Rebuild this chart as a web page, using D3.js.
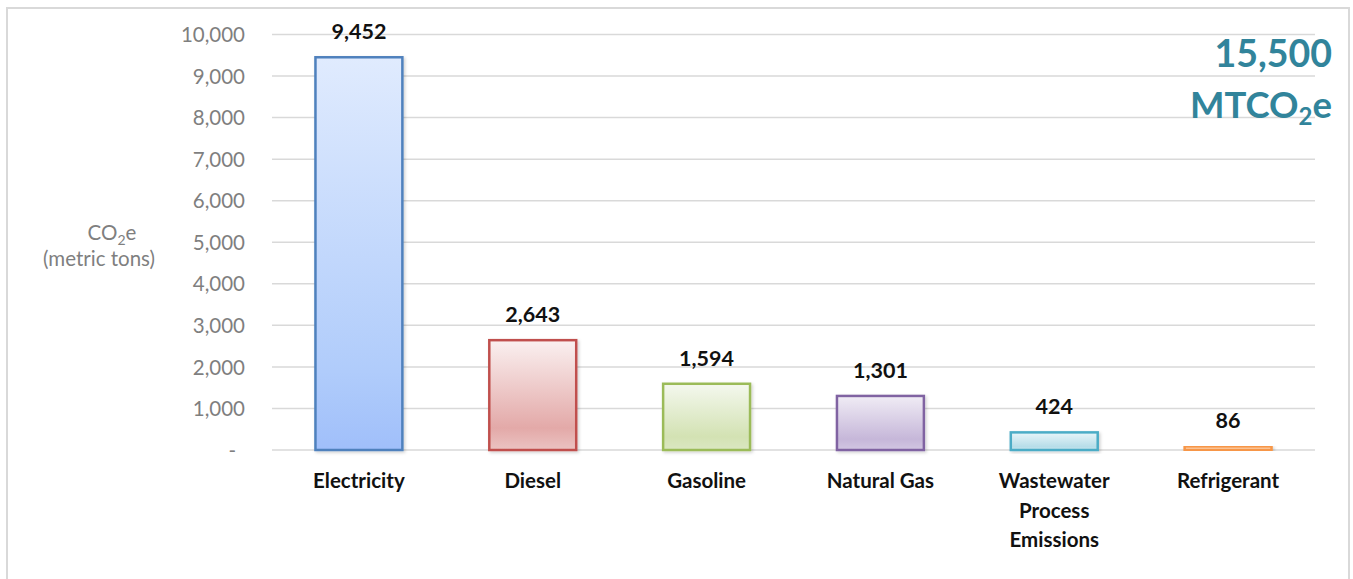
<!DOCTYPE html>
<html>
<head>
<meta charset="utf-8">
<script src="https://cdn.jsdelivr.net/npm/d3@7"></script>
<style>
  html, body { margin: 0; padding: 0; background: #fff; }
  svg { display: block; font-family: Lato, "Open Sans", sans-serif; }
</style>
</head>
<body>
<svg id="chart" width="1353" height="579"></svg>
<script>
// Emissions by source, metric tons CO2e
const categories = ["Electricity", "Diesel", "Gasoline", "Natural Gas", "Wastewater Process Emissions", "Refrigerant"];
const categoryLines = [["Electricity"], ["Diesel"], ["Gasoline"], ["Natural Gas"], ["Wastewater", "Process", "Emissions"], ["Refrigerant"]];
const values = [9452, 2643, 1594, 1301, 424, 86];
const yTicks = [0, 1000, 2000, 3000, 4000, 5000, 6000, 7000, 8000, 9000, 10000];
const totalLabel = "15,500";

// Per-bar outline and gradient stops (top, 80%, bottom)
const strokes = ["#4f81bd", "#c0504d", "#9bbb59", "#8064a2", "#4bacc6", "#f79646"];
const gradStops = [
  ["#e0ebfe", "#b0ccfb", "#a0bffa"],
  ["#faf0f0", "#e3a9a8", "#ebc3c2"],
  ["#f4f8ee", "#d3e2b3", "#dbe7c2"],
  ["#f0ecf5", "#c6b7d9", "#d2c7e2"],
  ["#e8f5f9", "#b7dee9", "#c6e4ed"],
  ["#fee6d2", "#fbcaa2", "#fcd6b6"]
];

const svg = d3.select("#chart");
const defs = svg.append("defs");

gradStops.forEach((stops, i) => {
  const g = defs.append("linearGradient")
    .attr("id", "grad" + i)
    .attr("x1", 0).attr("y1", 0).attr("x2", 0).attr("y2", 1);
  g.append("stop").attr("offset", "0%").attr("stop-color", stops[0]);
  g.append("stop").attr("offset", "80%").attr("stop-color", stops[1]);
  g.append("stop").attr("offset", "100%").attr("stop-color", stops[2]);
});

const shadow = defs.append("filter").attr("id", "shadow")
  .attr("x", "-10%").attr("y", "-10%").attr("width", "130%").attr("height", "130%");
shadow.append("feDropShadow")
  .attr("dx", 1.5).attr("dy", 1.5).attr("stdDeviation", 1.5)
  .attr("flood-color", "#000").attr("flood-opacity", 0.18);

// Outer frame
svg.append("rect")
  .attr("x", 7).attr("y", 8).attr("width", 1342).attr("height", 600)
  .attr("fill", "#fff").attr("stroke", "#d9d9d9").attr("stroke-width", 2);

const x = d3.scaleBand()
  .domain(categories)
  .range([272, 1315])
  .paddingInner(0.5)
  .paddingOuter(0.25);

const y = d3.scaleLinear()
  .domain([0, 10000])
  .range([450, 34.5]);

// Gridlines
svg.append("g")
  .selectAll("line")
  .data(yTicks)
  .join("line")
  .attr("x1", 272).attr("x2", 1315)
  .attr("y1", d => y(d)).attr("y2", d => y(d))
  .attr("stroke", "#d9d9d9").attr("stroke-width", 1.5);

// Y axis tick labels (accounting style: zero shown as a dash)
const fmt = d3.format(",");
const yAxis = d3.axisLeft(y)
  .tickValues(yTicks)
  .tickSize(0)
  .tickPadding(0)
  .tickFormat(d => d === 0 ? "-" : fmt(d));
const yG = svg.append("g")
  .attr("transform", "translate(245,0)")
  .call(yAxis);
yG.select(".domain").remove();
yG.selectAll("text")
  .attr("fill", "#7f7f7f")
  .attr("font-size", 20.5)
  .attr("font-family", "Lato, 'Open Sans', sans-serif")
  .attr("dy", "0.35em")
  .attr("dx", d => d === 0 ? -9 : 0);

// Y axis title
const yTitle = svg.append("text")
  .attr("text-anchor", "middle")
  .attr("fill", "#7f7f7f")
  .attr("font-size", 20.5);
const line1 = yTitle.append("tspan").attr("x", 112).attr("y", 240);
line1.append("tspan").text("CO");
line1.append("tspan").attr("font-size", 14).attr("dy", 5).text("2");
line1.append("tspan").attr("dy", -5).text("e");
yTitle.append("tspan").attr("x", 99).attr("y", 266).text("(metric tons)");

// Bars
svg.append("g")
  .selectAll("rect")
  .data(values)
  .join("rect")
  .attr("x", (d, i) => x(categories[i]))
  .attr("y", d => y(d))
  .attr("width", x.bandwidth())
  .attr("height", d => y(0) - y(d))
  .attr("fill", (d, i) => `url(#grad${i})`)
  .attr("stroke", (d, i) => strokes[i])
  .attr("stroke-width", 2.5)
  .attr("filter", "url(#shadow)");

// Value labels
svg.append("g")
  .selectAll("text")
  .data(values)
  .join("text")
  .attr("x", (d, i) => x(categories[i]) + x.bandwidth() / 2)
  .attr("y", d => y(d) - 18)
  .attr("text-anchor", "middle")
  .attr("font-size", 21.5)
  .attr("font-weight", "bold")
  .attr("fill", "#111")
  .text(d => fmt(d));

// Category labels
const catG = svg.append("g");
categories.forEach((c, i) => {
  const t = catG.append("text")
    .attr("text-anchor", "middle")
    .attr("font-size", 20.5)
    .attr("font-weight", "bold")
    .attr("fill", "#111");
  categoryLines[i].forEach((ln, j) => {
    t.append("tspan")
      .attr("x", x(c) + x.bandwidth() / 2)
      .attr("y", 488 + j * 29.5)
      .text(ln);
  });
});

// Total annotation
svg.append("text")
  .attr("x", 1332).attr("y", 67)
  .attr("text-anchor", "end")
  .attr("font-size", 37.5)
  .attr("font-weight", "bold")
  .attr("fill", "#31849b")
  .text(totalLabel);
const unit = svg.append("text")
  .attr("x", 1332).attr("y", 118)
  .attr("text-anchor", "end")
  .attr("font-size", 36.5)
  .attr("font-weight", "bold")
  .attr("fill", "#31849b");
unit.append("tspan").text("MTCO");
unit.append("tspan").attr("font-size", 24).attr("dy", 7).text("2");
unit.append("tspan").attr("dy", -7).text("e");
</script>
</body>
</html>
